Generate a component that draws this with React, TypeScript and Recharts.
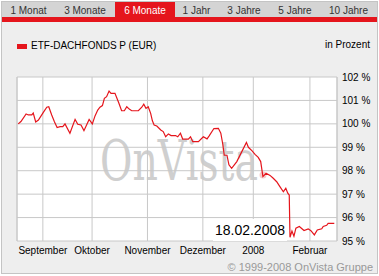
import { LineChart, Line, XAxis, YAxis, CartesianGrid, ReferenceLine } from "recharts"

const tabLabels = ["1 Monat", "3 Monate", "6 Monate", "1 Jahr", "3 Jahre", "5 Jahre", "10 Jahre"]
const activeTab = "6 Monate"

// trading day index since start of the 6 month window
const days = [
    0.5, 1.6, 3.7, 4.6, 6.0, 6.6, 7.6, 8.7, 10.7, 12.1, 12.9, 14.1, 15.2, 16.3, 17.5, 18.6, 19.5, 21.5,
    23.6, 24.7, 26.0, 27.2, 29.3, 30.6, 31.7, 32.8, 33.7, 34.7, 35.5, 36.4, 37.4, 38.2, 39.8, 40.6, 41.4,
    42.5, 43.6, 44.6, 45.6, 46.6, 49.3, 50.7, 51.5, 52.4, 53.3, 54.3, 55.0, 55.7, 56.8, 58.4, 59.4, 60.4,
    61.5, 62.6, 64.4, 65.3, 66.4, 67.3, 69.6, 70.5, 71.4, 73.7, 75.7, 77.2, 78.0, 80.0, 81.8, 82.8, 83.6,
    84.2, 85.3, 86.1, 87.2, 89.3, 93.2, 94.0, 95.5, 96.7, 98.0, 99.0, 99.9, 101.2, 102.8, 104.1, 105.5,
    106.8, 108.2, 109.2, 110.0, 110.6, 110.9, 111.7, 112.5, 113.3, 114.7, 116.6, 118.3, 119.4, 120.8,
    122.0, 123.8, 124.4, 125.8, 126.4, 128.9
]

// ETF-DACHFONDS P (EUR), in percent of start value
const values = [
    100.0, 100.1, 100.42, 100.38, 100.38, 100.46, 100.08, 100.16, 100.49, 100.71, 100.73, 100.38, 100.09,
    99.84, 99.88, 99.88, 100.0, 99.6, 100.19, 99.98, 99.95, 99.71, 100.19, 100.0, 100.34, 100.59, 100.71,
    100.78, 101.09, 101.16, 101.4, 101.3, 101.3, 101.09, 100.88, 100.56, 100.56, 100.73, 100.63, 100.56,
    100.56, 100.71, 100.84, 100.66, 100.73, 100.45, 100.13, 99.95, 99.91, 99.74, 99.67, 99.45, 99.57, 99.5,
    99.5, 99.45, 99.6, 99.35, 99.35, 99.45, 99.24, 99.24, 99.45, 99.36, 99.48, 99.8, 99.81, 99.6, 99.13,
    98.66, 98.66, 98.25, 98.1, 98.39, 99.21, 99.0, 98.85, 98.7, 98.57, 98.39, 97.75, 97.89, 97.8, 97.68,
    97.53, 97.32, 97.1, 97.25, 97.04, 96.96, 95.16, 95.42, 95.2, 95.55, 95.62, 95.45, 95.52, 95.44, 95.26,
    95.47, 95.52, 95.62, 95.67, 95.75, 95.75
]

const monthTicks = [10.5, 30.5, 53, 75.5, 96, 119]
const monthLabels = ["September", "Oktober", "November", "Dezember", "2008", "Februar"]
const percentTicks = [95, 96, 97, 98, 99, 100, 101, 102]

const seriesName = "ETF-DACHFONDS P (EUR)"
const lastDate = "18.02.2008"

const data = days.map((d, i) => ({ day: d, value: values[i] }))

const RED = "#e5151c"
const GRID = "#c8c8c8"
const FONT = "'Liberation Sans', Arial, sans-serif"
const tabWidths = [53, 60, 60, 43, 52, 50, 57]

// right hand percent labels, kept on one line
const PercentTick = (props: any) => {
    const { x, y, payload } = props
    return (
        <text x={x} y={y} dy={3.5} fontSize={10} fontFamily={FONT} fill="#000" textAnchor="start">
            {`${payload.value}\u00a0%`}
        </text>
    )
}

export default function App() {
    return (
        <div style={{ position: "absolute", left: 0, top: 0, width: 379, height: 276, background: "#fff", fontFamily: FONT }}>

            <div style={{ position: "absolute", left: 1, top: 1, width: 375, height: 271, border: "1px solid #c4c4c4", background: "#eeeeee" }} />

            <div style={{ position: "absolute", left: 2, top: 2, width: 375, height: 15, background: "#d4d4d4", display: "flex" }}>
                {tabLabels.map((t, i) => (
                    <div key={t} style={{
                        width: tabWidths[i], height: 15, lineHeight: "17px", fontSize: 10, textAlign: "center",
                        fontFamily: FONT,
                        color: t === activeTab ? "#fff" : "#333", background: t === activeTab ? RED : "transparent",
                        overflow: "hidden", whiteSpace: "nowrap"
                    }}>
                        {t}
                    </div>
                ))}
            </div>
            <div style={{ position: "absolute", left: 2, top: 17, width: 375, height: 5, background: RED }} />

            <div style={{ position: "absolute", left: 17, top: 44, width: 10, height: 5, background: RED }} />
            <div style={{ position: "absolute", left: 31, top: 40, fontSize: 10, lineHeight: "12px", color: "#000", whiteSpace: "nowrap" }}>
                {seriesName}
            </div>
            <div style={{ position: "absolute", right: 9, top: 39, fontSize: 10, lineHeight: "12px", color: "#000", whiteSpace: "nowrap" }}>
                in Prozent
            </div>

            <div style={{ position: "absolute", left: 17, top: 77, width: 320, height: 164, background: "#fff" }} />

            <svg style={{ position: "absolute", left: 0, top: 0 }} width={379} height={276}>
                <text x={100} y={180} fontSize={56} fontFamily="'DejaVu Serif', serif" fill="#cfcfcf"
                    textLength={158} lengthAdjust="spacingAndGlyphs">OnVista</text>
                <circle cx={263} cy={175} r={3.5} fill="#f3caca" />
            </svg>

            <div style={{ position: "absolute", left: 0, top: 0 }}>
                <LineChart width={379} height={276} data={data} margin={{ top: 77, right: 2, bottom: 15, left: 17 }}>
                    <CartesianGrid stroke={GRID} />
                    <XAxis
                        dataKey="day"
                        type="number"
                        domain={[0, 130]}
                        ticks={monthTicks}
                        interval={0}
                        tickFormatter={(v: number) => monthLabels[monthTicks.indexOf(v)]}
                        axisLine={false}
                        tickLine={false}
                        tickSize={4}
                        tickMargin={2}
                        height={20}
                        tick={{ fontSize: 10, fill: "#000", fontFamily: FONT }}
                    />
                    <YAxis
                        orientation="right"
                        domain={[95, 102]}
                        ticks={percentTicks}
                        interval={0}
                        axisLine={false}
                        tickLine={false}
                        tickSize={4}
                        tickMargin={1}
                        width={40}
                        tick={<PercentTick />}
                    />
                    <ReferenceLine x={0} stroke={GRID} />
                    <ReferenceLine x={130} stroke={GRID} />
                    <Line type="linear" dataKey="value" stroke={RED} strokeWidth={1.2} dot={false} isAnimationActive={false} />
                </LineChart>
            </div>

            <div style={{
                position: "absolute", left: 213, top: 219, width: 72, height: 22, paddingRight: 2,
                background: "#fff", fontSize: 14, lineHeight: "22px", textAlign: "right", color: "#000"
            }}>
                {lastDate}
            </div>

            <div style={{ position: "absolute", right: 6, top: 261, fontSize: 11, lineHeight: "12px", color: "#999", whiteSpace: "nowrap" }}>
                © 1999-2008 OnVista Gruppe
            </div>
        </div>
    )
}
